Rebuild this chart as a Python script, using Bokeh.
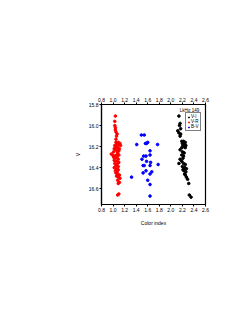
from bokeh.plotting import figure
from bokeh.models import (Range1d, LinearAxis, FixedTicker, Legend, LegendItem, Label,
                          NumeralTickFormatter)
from bokeh.embed import file_html
from bokeh.resources import INLINE

# V-R (red)
vr_x = [1.04, 1.03, 1.03, 1.04, 1.04, 1.05, 1.07, 1.06, 1.05,
        1.05, 1.09, 1.12, 1.06, 1.10, 1.03, 1.07, 1.13, 1.05, 1.08, 1.02, 1.11,
        1.04, 1.07, 1.10, 1.01, 1.08, 0.97, 0.99, 1.06, 1.10, 1.03, 1.01,
        1.07, 1.04, 1.09, 1.02, 1.06, 1.10, 1.03, 1.07, 1.05, 1.09, 1.02, 1.06,
        1.09, 1.04, 1.07, 1.05, 1.08, 1.11, 1.06, 1.09, 1.12, 1.08, 1.11, 1.09,
        1.10, 1.08]
vr_y = [15.91, 15.96, 16.00, 16.02, 16.04, 16.06, 16.08, 16.10, 16.13,
        16.16, 16.16, 16.17, 16.18, 16.18, 16.19, 16.19, 16.19, 16.20, 16.21, 16.22, 16.22,
        16.23, 16.24, 16.24, 16.25, 16.26, 16.27, 16.28, 16.28, 16.28, 16.29, 16.30,
        16.30, 16.31, 16.32, 16.33, 16.34, 16.35, 16.36, 16.37, 16.38, 16.39, 16.40, 16.41,
        16.42, 16.43, 16.44, 16.45, 16.46, 16.47, 16.48, 16.49, 16.50, 16.52, 16.54, 16.55,
        16.65, 16.66]

# B-V (blue)
bv_x = [1.49, 1.54, 1.41, 1.56, 1.60, 1.58, 1.77, 1.64, 1.53, 1.57, 1.64, 1.50,
        1.58, 1.65, 1.52, 1.54, 1.78, 1.64, 1.52, 1.57, 1.64, 1.67, 1.32, 1.60,
        1.64, 1.64]
bv_y = [16.09, 16.09, 16.18, 16.17, 16.16, 16.17, 16.18, 16.24, 16.29, 16.29, 16.28, 16.32,
        16.34, 16.35, 16.38, 16.38, 16.37, 16.38, 16.45, 16.43, 16.46, 16.44, 16.49, 16.52,
        16.56, 16.67]

# V-I (black)
vi_x = [2.14, 2.16, 2.15, 2.17, 2.12, 2.14, 2.17, 2.16,
        2.19, 2.22, 2.25, 2.20, 2.24, 2.21, 2.26, 2.23, 2.19, 2.25,
        2.16, 2.20, 2.23, 2.19, 2.22, 2.21, 2.16, 2.14,
        2.19, 2.22, 2.25, 2.20, 2.24, 2.27, 2.21, 2.23, 2.26, 2.24, 2.25, 2.27,
        2.29, 2.31, 2.32, 2.35]
vi_y = [15.91, 15.98, 16.00, 16.03, 16.05, 16.07, 16.08, 16.10,
        16.15, 16.15, 16.16, 16.17, 16.18, 16.19, 16.19, 16.20, 16.21, 16.21,
        16.23, 16.25, 16.26, 16.28, 16.29, 16.31, 16.32, 16.36,
        16.34, 16.36, 16.37, 16.39, 16.40, 16.41, 16.42, 16.43, 16.44, 16.46, 16.47, 16.49,
        16.51, 16.55, 16.66, 16.68]

x_ticks = [0.8, 1.0, 1.2, 1.4, 1.6, 1.8, 2.0, 2.2, 2.4, 2.6]
y_ticks = [15.8, 16.0, 16.2, 16.4, 16.6]
series_names = ["V-I", "V-R", "B-V"]
series_colors = ["black", "red", "blue"]
title_text = "LkH\u03b1 149"

FONT = "Liberation Sans"
FS = "5px"

p = figure(output_backend="svg", toolbar_location=None,
           frame_width=104, frame_height=100,
           min_border_left=101, min_border_top=104, min_border_right=25, min_border_bottom=50,
           x_range=Range1d(0.8, 2.6), y_range=Range1d(16.75, 15.8),
           x_axis_label="Color index", y_axis_label="V")
p.grid.visible = False
p.outline_line_color = "black"
p.outline_line_width = 1.2
p.background_fill_color = "white"
p.border_fill_color = "white"

top_axis = LinearAxis()
p.add_layout(top_axis, "above")

for ax in list(p.xaxis) + list(p.yaxis):
    ax.axis_line_color = "black"
    ax.axis_line_width = 1.2
    ax.major_tick_out = 2
    ax.major_tick_in = 0
    ax.major_tick_line_color = "black"
    ax.minor_tick_out = 0
    ax.minor_tick_in = 0
    ax.major_label_text_font = FONT
    ax.major_label_text_font_size = FS
    ax.major_label_text_color = "black"
    ax.major_label_standoff = 1
    ax.axis_label_text_font = FONT
    ax.axis_label_text_font_size = FS
    ax.axis_label_text_color = "black"
    ax.axis_label_text_font_style = "normal"
    ax.axis_label_standoff = 5
    ax.formatter = NumeralTickFormatter(format="0.0")

for ax in p.xaxis:
    ax.ticker = FixedTicker(ticks=x_ticks)
for ax in p.yaxis:
    ax.ticker = FixedTicker(ticks=y_ticks)

r_vi = p.scatter(vi_x, vi_y, size=2.6, marker="circle", color=series_colors[0])
r_vr = p.scatter(vr_x, vr_y, size=2.6, marker="circle", color=series_colors[1])
r_bv = p.scatter(bv_x, bv_y, size=2.6, marker="circle", color=series_colors[2])

legend = Legend(items=[LegendItem(label=series_names[0], renderers=[r_vi]),
                       LegendItem(label=series_names[1], renderers=[r_vr]),
                       LegendItem(label=series_names[2], renderers=[r_bv])],
                location=(84, 73), orientation="vertical",
                label_text_font=FONT, label_text_font_size="4.5px",
                label_text_color="black",
                glyph_width=3, glyph_height=4, label_height=5, label_width=4,
                label_standoff=1, spacing=0, padding=1, margin=0,
                border_line_color="black", border_line_width=0.8,
                background_fill_alpha=1.0)
p.add_layout(legend, "center")

p.add_layout(Label(x=88, y=94.5, x_units="screen", y_units="screen", text=title_text,
                   text_align="center", text_baseline="middle", text_color="black",
                   text_font=FONT, text_font_size="4.5px"))

open("out.html", "w").write(file_html(p, INLINE))
